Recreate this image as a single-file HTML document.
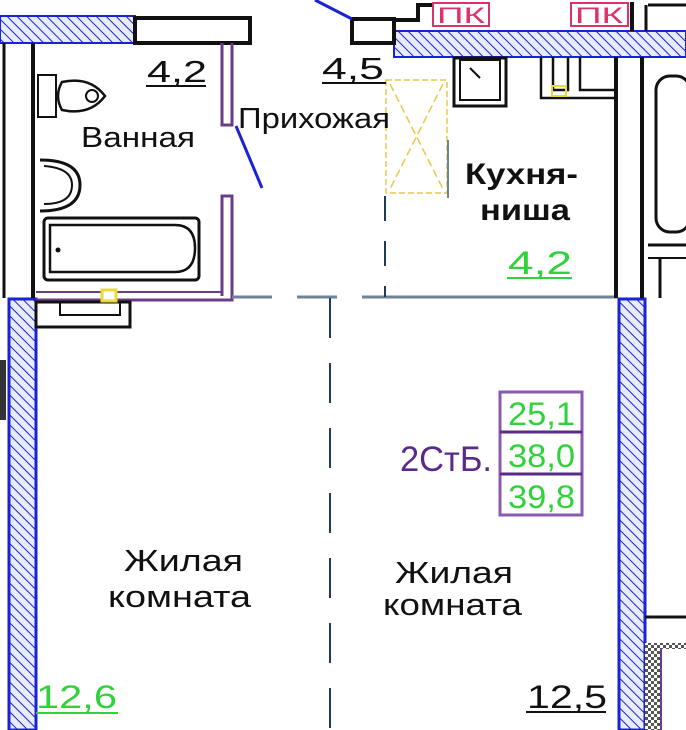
<!DOCTYPE html>
<html><head><meta charset="utf-8"><style>
html,body{margin:0;padding:0;background:#fff;width:686px;height:730px;overflow:hidden}
svg{display:block}
text{font-family:"Liberation Sans","DejaVu Sans",sans-serif}
</style></head><body>
<svg width="686" height="730" viewBox="0 0 686 730" xmlns="http://www.w3.org/2000/svg">
<defs>
<pattern id="h" width="7" height="7" patternUnits="userSpaceOnUse" patternTransform="rotate(-45)">
<rect width="7" height="7" fill="#e8ecff"/><line x1="0" y1="0" x2="0" y2="7" stroke="#1a22d8" stroke-width="2"/>
</pattern>
<pattern id="c" width="6" height="6" patternUnits="userSpaceOnUse">
<rect width="6" height="6" fill="#fff"/><rect width="3" height="3" fill="#555"/><rect x="3" y="3" width="3" height="3" fill="#555"/>
</pattern>
</defs>
<rect x="0" y="16" width="135" height="27" fill="url(#h)" stroke="#1a22d8" stroke-width="2"/>
<rect x="394" y="31" width="292" height="26" fill="url(#h)" stroke="#1a22d8" stroke-width="2"/>
<rect x="9" y="299" width="27" height="431" fill="url(#h)" stroke="#1a22d8" stroke-width="3"/>
<rect x="619" y="299" width="26" height="431" fill="url(#h)" stroke="#1a22d8" stroke-width="3"/>
<rect x="135" y="18" width="115" height="25" fill="#fff" stroke="#111" stroke-width="4"/>
<rect x="352" y="19" width="42" height="24" fill="#fff" stroke="#111" stroke-width="4"/>
<path d="M392 20 H418 V5 H432" fill="none" stroke="#111" stroke-width="4"/>
<line x1="632" y1="2" x2="632" y2="31" stroke="#111" stroke-width="4"/>
<line x1="648" y1="5" x2="686" y2="5" stroke="#111" stroke-width="3"/>
<line x1="646" y1="5" x2="646" y2="31" stroke="#111" stroke-width="3"/>
<line x1="315" y1="0" x2="352" y2="19" stroke="#1a22d8" stroke-width="3"/>
<rect x="433" y="3" width="56" height="23" fill="#fff" stroke="#e0306a" stroke-width="2"/>
<text x="437" y="23" font-size="22" fill="#e0306a" textLength="48" lengthAdjust="spacingAndGlyphs">ПК</text>
<rect x="571" y="3" width="57" height="23" fill="#fff" stroke="#e0306a" stroke-width="2"/>
<text x="575" y="23" font-size="22" fill="#e0306a" textLength="48" lengthAdjust="spacingAndGlyphs">ПК</text>
<line x1="4" y1="43" x2="4" y2="298" stroke="#111" stroke-width="3"/>
<line x1="33" y1="43" x2="33" y2="298" stroke="#111" stroke-width="4"/>
<rect x="0" y="360" width="6" height="60" fill="#333"/>
<path d="M222 43 V125 H232 V43" fill="none" stroke="#6a3d8a" stroke-width="3"/>
<path d="M222 296 V196 H232 V300 H36" fill="none" stroke="#6a3d8a" stroke-width="3"/>
<line x1="36" y1="292" x2="222" y2="292" stroke="#6a3d8a" stroke-width="2"/>
<line x1="236" y1="126" x2="262" y2="188" stroke="#1a22d8" stroke-width="3"/>
<rect x="44" y="218" width="155" height="62" rx="4" fill="none" stroke="#111" stroke-width="3"/>
<path d="M50 225 H175 Q195 225 195 248 Q195 272 175 272 H50 Z" fill="none" stroke="#111" stroke-width="2.5"/>
<circle cx="58" cy="250" r="2.5" fill="#111"/>
<rect x="38" y="75" width="18" height="42" fill="none" stroke="#111" stroke-width="2"/>
<path d="M62 82 Q90 76 105 96 Q90 116 62 110 Q54 96 62 82 Z" fill="none" stroke="#111" stroke-width="2.5"/>
<circle cx="92" cy="96" r="6" fill="none" stroke="#111" stroke-width="2"/>
<path d="M40 160 Q80 160 80 185 Q80 211 40 211" fill="none" stroke="#111" stroke-width="3"/>
<path d="M44 166 Q72 168 72 185 Q72 204 44 204" fill="none" stroke="#111" stroke-width="2"/>
<rect x="36" y="302" width="94" height="25" fill="none" stroke="#111" stroke-width="3"/>
<path d="M60 302 V315 H120 V302" fill="none" stroke="#111" stroke-width="2"/>
<rect x="102" y="290" width="14" height="11" fill="#fff" stroke="#e8d83a" stroke-width="3"/>
<line x1="232" y1="297" x2="618" y2="297" stroke="#6e8299" stroke-width="3" stroke-dasharray="40,25"/>
<line x1="385" y1="297" x2="618" y2="297" stroke="#6e8299" stroke-width="3"/>
<line x1="385" y1="196" x2="385" y2="297" stroke="#223a5a" stroke-width="2" stroke-dasharray="25,20"/>
<line x1="330" y1="298" x2="330" y2="730" stroke="#223a5a" stroke-width="2" stroke-dasharray="40,25"/>
<rect x="386" y="80" width="61" height="113" fill="none" stroke="#e8c84a" stroke-width="1.5" stroke-dasharray="6,3"/>
<path d="M390 84 L443 189 M443 84 L390 189" stroke="#e8c84a" stroke-width="1.5" fill="none" stroke-dasharray="8,4"/>
<line x1="448" y1="140" x2="448" y2="198" stroke="#6e8299" stroke-width="2"/>
<rect x="454" y="58" width="52" height="48" fill="none" stroke="#111" stroke-width="3"/>
<rect x="460" y="60" width="40" height="40" fill="none" stroke="#111" stroke-width="2"/>
<path d="M470 68 L480 78" stroke="#111" stroke-width="2"/>
<path d="M541 57 V98 H614 M553 57 V90 H568 V57 M580 57 V90 H614" fill="none" stroke="#111" stroke-width="2.5"/>
<rect x="552" y="86" width="14" height="10" fill="none" stroke="#e8d83a" stroke-width="2"/>
<line x1="616" y1="57" x2="616" y2="298" stroke="#111" stroke-width="4"/>
<line x1="642" y1="57" x2="642" y2="298" stroke="#111" stroke-width="4"/>
<rect x="656" y="76" width="34" height="156" rx="14" fill="none" stroke="#111" stroke-width="3"/>
<line x1="648" y1="245" x2="686" y2="245" stroke="#111" stroke-width="3"/>
<line x1="648" y1="258" x2="686" y2="258" stroke="#111" stroke-width="2"/>
<line x1="660" y1="258" x2="660" y2="298" stroke="#111" stroke-width="3"/>
<line x1="645" y1="617" x2="686" y2="617" stroke="#111" stroke-width="3"/>
<rect x="645" y="643" width="41" height="6" fill="url(#c)"/>
<rect x="645" y="643" width="15" height="87" fill="url(#c)"/>
<line x1="661" y1="649" x2="661" y2="730" stroke="#6a3d8a" stroke-width="2"/>
<g font-size="31" fill="#111" lengthAdjust="spacingAndGlyphs">
<text x="147" y="82" textLength="60" lengthAdjust="spacingAndGlyphs">4,2</text>
<line x1="146" y1="86" x2="206" y2="86" stroke="#111" stroke-width="2"/>
<text x="322" y="79" textLength="62" lengthAdjust="spacingAndGlyphs">4,5</text>
<line x1="322" y1="83" x2="386" y2="83" stroke="#111" stroke-width="2"/>
<text x="81" y="147" font-size="29" textLength="114" lengthAdjust="spacingAndGlyphs">Ванная</text>
<text x="238" y="128" font-size="29" textLength="152" lengthAdjust="spacingAndGlyphs">Прихожая</text>
<text x="465" y="184" font-size="30" font-weight="bold" textLength="113" lengthAdjust="spacingAndGlyphs">Кухня-</text>
<text x="480" y="220" font-size="30" font-weight="bold" textLength="90" lengthAdjust="spacingAndGlyphs">ниша</text>
<text x="124" y="571" textLength="119" lengthAdjust="spacingAndGlyphs">Жилая</text>
<text x="108" y="607" textLength="143" lengthAdjust="spacingAndGlyphs">комната</text>
<text x="395" y="583" textLength="118" lengthAdjust="spacingAndGlyphs">Жилая</text>
<text x="383" y="615" textLength="139" lengthAdjust="spacingAndGlyphs">комната</text>
<text x="527" y="708" font-size="32" textLength="80" lengthAdjust="spacingAndGlyphs">12,5</text>
<line x1="526" y1="712" x2="606" y2="712" stroke="#111" stroke-width="2"/>
</g>
<text x="508" y="274" font-size="32" fill="#2fd23a" textLength="64" lengthAdjust="spacingAndGlyphs">4,2</text>
<line x1="507" y1="278" x2="572" y2="278" stroke="#2fd23a" stroke-width="2"/>
<text x="36" y="708" font-size="32" fill="#2fd23a" textLength="81" lengthAdjust="spacingAndGlyphs">12,6</text>
<line x1="36" y1="713" x2="118" y2="713" stroke="#2fd23a" stroke-width="2"/>
<text x="400" y="471" font-size="35" fill="#5a2a8a" textLength="92" lengthAdjust="spacingAndGlyphs">2СтБ.</text>
<rect x="500" y="392" width="82" height="123" fill="none" stroke="#8a5ab0" stroke-width="3"/>
<line x1="500" y1="432" x2="582" y2="432" stroke="#5a2a8a" stroke-width="3"/>
<line x1="500" y1="474" x2="582" y2="474" stroke="#5a2a8a" stroke-width="3"/>
<g font-size="32" fill="#2fd23a">
<text x="508" y="425" textLength="67" lengthAdjust="spacingAndGlyphs">25,1</text>
<text x="508" y="467" textLength="67" lengthAdjust="spacingAndGlyphs">38,0</text>
<text x="508" y="508" textLength="67" lengthAdjust="spacingAndGlyphs">39,8</text>
</g>
</svg>
</body></html>
